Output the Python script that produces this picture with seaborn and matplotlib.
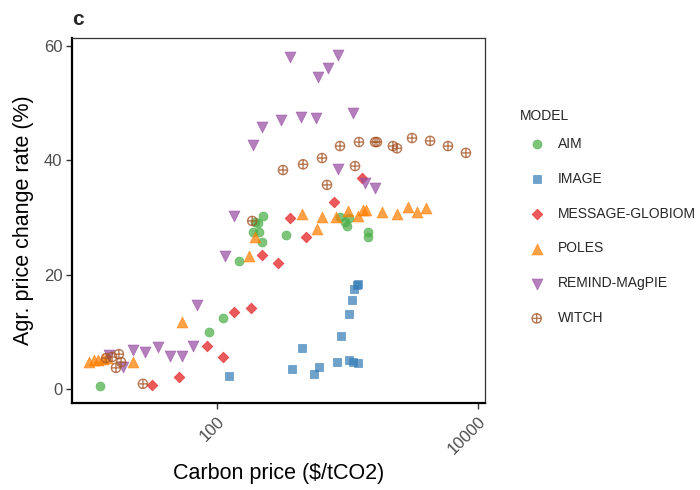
import matplotlib
matplotlib.use("Agg")
import matplotlib.pyplot as plt
import numpy as np
import pandas as pd
import seaborn as sns
from matplotlib.path import Path
from matplotlib.ticker import NullLocator

# Carbon price ($/tCO2) and agricultural price change rate (%) per model
aim_price = [12.8, 87, 112, 148, 190, 211, 222, 196, 207, 226, 340, 881, 962, 997, 1033, 1443, 1443]
aim_rate = [0.5, 10.0, 12.4, 22.4, 27.4, 27.4, 25.7, 29.2, 29.0, 30.2, 26.9, 30.1, 29.2, 28.5, 29.9, 27.4, 26.6]

image_price = [124, 378, 451, 557, 609, 836, 896, 1033, 1089, 1128, 1189, 1211, 1033, 1109, 1211]
image_rate = [2.3, 3.5, 7.2, 2.6, 3.8, 4.7, 9.3, 13.1, 15.6, 17.5, 18.2, 18.4, 5.1, 4.7, 4.5]

message_price = [31.9, 51.4, 84.3, 112, 136, 183, 222, 295, 365, 484, 793, 1297]
message_rate = [0.7, 2.1, 7.5, 5.6, 13.5, 14.2, 23.4, 22.0, 29.9, 26.6, 32.7, 36.9]

poles_price = [10.5, 11.5, 12.3, 13.4, 14.4, 22.9, 54.2, 177, 196, 451, 587, 641, 821,
               1014, 1211, 1321, 1393, 1849, 2406, 2923, 3425, 4016]
poles_rate = [4.7, 5.1, 5.1, 5.2, 5.4, 4.7, 11.7, 23.3, 26.6, 30.6, 28.0, 30.1, 30.1,
              31.1, 30.2, 31.3, 31.3, 30.9, 30.6, 31.8, 30.9, 31.6]

remind_price = [15.0, 19.2, 22.9, 28.3, 35.5, 43.8, 54.2, 65.8, 70.6, 116, 136, 190, 222,
                311, 365, 443, 577, 598, 713, 850, 850, 1109, 1371, 1635]
remind_rate = [5.9, 3.8, 6.8, 6.5, 7.3, 5.8, 5.8, 7.5, 14.7, 23.3, 30.2, 42.7, 45.8,
               47.0, 58.0, 47.6, 47.4, 54.5, 56.1, 58.4, 38.5, 48.3, 36.0, 35.1]

witch_price = [14.2, 15.8, 16.9, 17.8, 18.5, 27.2, 187, 322, 459, 641, 700, 881, 1148,
               1231, 1635, 1691, 2240, 2406, 3139, 4315, 5920, 8128]
witch_rate = [5.4, 5.6, 3.7, 6.1, 4.7, 0.9, 29.4, 38.3, 39.3, 40.4, 35.7, 42.5, 39.0,
              43.2, 43.2, 43.2, 42.5, 42.1, 43.9, 43.4, 42.5, 41.3]

models = ["AIM", "IMAGE", "MESSAGE-GLOBIOM", "POLES", "REMIND-MAgPIE", "WITCH"]
prices = [aim_price, image_price, message_price, poles_price, remind_price, witch_price]
rates = [aim_rate, image_rate, message_rate, poles_rate, remind_rate, witch_rate]

df = pd.concat([pd.DataFrame({"model": m, "price": p, "rate": r})
                for m, p, r in zip(models, prices, rates)], ignore_index=True)

colors = {"AIM": "#4daf4a", "IMAGE": "#377eb8", "MESSAGE-GLOBIOM": "#e41a1c",
          "POLES": "#ff7f00", "REMIND-MAgPIE": "#984ea3", "WITCH": "#a65628"}

# circle with a plus inside (ggplot shape 10)
circle_plus = Path.make_compound_path(
    Path.unit_circle(),
    Path([[-1, 0], [1, 0]], [Path.MOVETO, Path.LINETO]),
    Path([[0, -1], [0, 1]], [Path.MOVETO, Path.LINETO]),
)
markers = {"AIM": "o", "IMAGE": "s", "MESSAGE-GLOBIOM": "D", "POLES": "^",
           "REMIND-MAgPIE": "v", "WITCH": circle_plus}
sizes = {"AIM": 42, "IMAGE": 36, "MESSAGE-GLOBIOM": 30, "POLES": 62,
         "REMIND-MAgPIE": 62, "WITCH": 44}

sns.set_theme(style="ticks")
plt.rcParams['font.family'] = ['Liberation Sans', 'DejaVu Sans']

fig = plt.figure(figsize=(7, 4.9), dpi=100)
ax = fig.add_axes([72 / 700, 87 / 490, 413 / 700, 365 / 490])

for model in models:
    sub = df[df["model"] == model]
    if model == "WITCH":
        sns.scatterplot(data=sub, x="price", y="rate", ax=ax, marker=markers[model],
                        s=sizes[model], color=colors[model], facecolor="none",
                        edgecolor=colors[model], linewidth=1.0, alpha=0.8, label=model)
    else:
        sns.scatterplot(data=sub, x="price", y="rate", ax=ax, marker=markers[model],
                        s=sizes[model], color=colors[model], edgecolor=colors[model],
                        linewidth=0.5, alpha=0.72, label=model)

ax.set_xscale("log")
ax.set_xlim(7.78, 11376)
ax.set_ylim(-2.45, 61.4)
ax.set_xticks([100, 10000])
ax.set_xticklabels(["100", "10000"], rotation=45, ha="right", va="top",
                   rotation_mode="anchor")
ax.xaxis.set_minor_locator(NullLocator())
ax.set_yticks([0, 20, 40, 60])

ax.tick_params(axis="both", direction="out", length=4, width=1.0, color="#333333",
               labelcolor="#4d4d4d", labelsize=12, pad=3)
ax.tick_params(axis="x", pad=4)

for side in ["top", "right"]:
    ax.spines[side].set_color("#333333")
    ax.spines[side].set_linewidth(0.9)
for side in ["left", "bottom"]:
    ax.spines[side].set_color("black")
    ax.spines[side].set_linewidth(1.6)

ax.set_xlabel("Carbon price ($/tCO2)", fontsize=15.5, color="black", labelpad=4)
ax.set_ylabel("Agr. price change rate (%)", fontsize=15.5, color="black", labelpad=7)
ax.set_title("c", loc="left", fontweight="bold", fontsize=15, pad=9)

handles, labels = ax.get_legend_handles_labels()
ax.get_legend().remove()
leg = fig.legend(handles, labels, title="MODEL", loc="upper left",
                 bbox_to_anchor=(520 / 700, 1 - 109 / 490), frameon=False,
                 alignment="left", handlelength=2.4, handletextpad=0.35,
                 labelspacing=1.5, fontsize=10, title_fontsize=10, borderpad=0,
                 borderaxespad=0)
# tighter gap between the legend title and the first entry
leg._legend_box.sep = 10

fig.savefig("out.png", dpi=100)
